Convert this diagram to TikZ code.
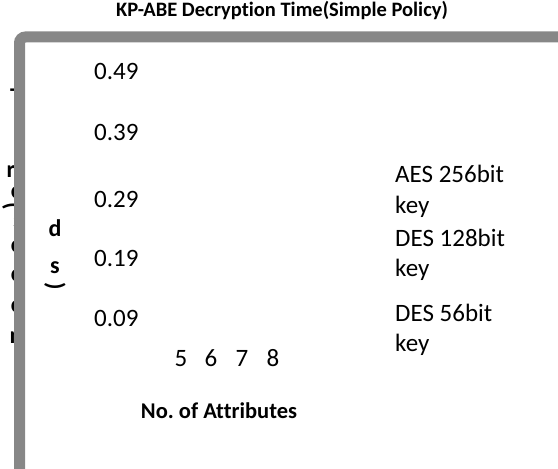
\documentclass[tikz,border=0pt]{standalone}
\usepackage{fontspec}
\setmainfont[Ligatures={NoCommon}]{Carlito}
\begin{document}
\frenchspacing
\begin{tikzpicture}[x=1bp,y=-1bp,
  lbl/.style={inner sep=0pt, font=\fontsize{25bp}{30bp}\selectfont, text=black},
  blbl/.style={inner sep=0pt, font=\fontsize{24bp}{29bp}\selectfont\bfseries, text=black},
  frag/.style={inner sep=0pt, font=\fontsize{24bp}{29bp}\selectfont\bfseries, text=black},
  framecol/.style={draw=chartgray, line width=11bp, rounded corners=6bp}]
\definecolor{chartgray}{HTML}{878787}
\useasboundingbox (0,0) rectangle (558,469);
\clip (0,0) rectangle (558,469);

% title
\node[blbl, font=\fontsize{20.5bp}{24bp}\selectfont\bfseries] (title) at (282,11) {KP-ABE Decryption Time(Simple Policy)};

% vertical axis title, mostly hidden behind the frame
\node[frag] (fT) at (16,97) {T};
\node[frag] (fr) at (11,172) {r};
\node[frag] (fc1) at (16,193) {c};
\node[frag, rotate=-90] (fp1) at (13,206) {(};
\node[frag] (fs) at (18,222) {s};
\node[frag] (fc2) at (16,247) {c};
\node[frag] (fc3) at (16,276) {c};
\node[frag] (fc4) at (16,307) {c};
\node[frag] (fn) at (16,338) {n};

% chart frame
\draw[framecol] (19.5,500) -- (19.5,37) -- (600,37);

% second column of the axis title
\node[blbl] (ad) at (55,228) {d};
\node[blbl] (as) at (55,268) {s};
\node[blbl, rotate=-90] (ap) at (55,286) {)};

% value axis labels
\node[lbl, anchor=base west] (y49) at (94,80) {0.49};
\node[lbl, anchor=base west] (y39) at (94,141) {0.39};
\node[lbl, anchor=base west] (y29) at (94,208) {0.29};
\node[lbl, anchor=base west] (y19) at (94,267) {0.19};
\node[lbl, anchor=base west] (y09) at (94,326) {0.09};

% category axis labels
\node[lbl, anchor=base] (x5) at (181,366) {5};
\node[lbl, anchor=base] (x6) at (211,366) {6};
\node[lbl, anchor=base] (x7) at (242,366) {7};
\node[lbl, anchor=base] (x8) at (273,366) {8};
\node[blbl, font=\fontsize{22.5bp}{27bp}\selectfont\bfseries, anchor=base] (xt) at (219,418) {No. of Attributes};

% legend
\node[lbl, anchor=base west] (l1a) at (395,183) {AES 256bit};
\node[lbl, anchor=base west] (l1b) at (395,214) {key};
\node[lbl, anchor=base west] (l2a) at (395,247) {DES 128bit};
\node[lbl, anchor=base west] (l2b) at (395,277) {key};
\node[lbl, anchor=base west] (l3a) at (395,321) {DES 56bit};
\node[lbl, anchor=base west] (l3b) at (395,351) {key};
\end{tikzpicture}
\end{document}
